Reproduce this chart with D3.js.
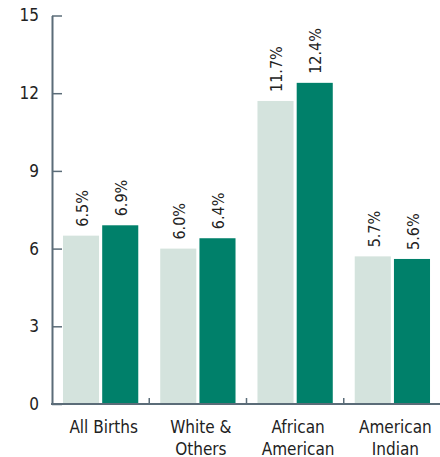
<!DOCTYPE html>
<html>
<head>
<meta charset="utf-8">
<script src="https://cdn.jsdelivr.net/npm/d3@7"></script>
<style>
  body { margin: 0; background: #fff; }
  text { font-family: "Liberation Sans Narrow", "DejaVu Sans Condensed", "Roboto", sans-serif; fill: #222; }
</style>
</head>
<body>
<script>
// chart values
const categories = [["All Births"], ["White &", "Others"], ["African", "American"], ["American", "Indian"]];
const seriesNames = ["earlier", "later"];
const earlierValues = [6.5, 6.0, 11.7, 5.7];
const laterValues = [6.9, 6.4, 12.4, 5.6];
const yTicks = [0, 3, 6, 9, 12, 15];
const colors = { earlier: "#d4e3dd", later: "#00806a" };

const width = 440, height = 457;
const margin = { left: 52, right: 441, top: 15.5, bottom: 404 };
const axisColor = "#5b6c78";

const svg = d3.select("body").append("svg")
    .attr("width", width)
    .attr("height", height);

const catKeys = categories.map(c => c.join(" "));

const x = d3.scaleBand()
    .domain(catKeys)
    .range([margin.left, margin.right])
    .padding(0);

const xSub = d3.scaleBand()
    .domain(seriesNames)
    .range([0, x.bandwidth()])
    .paddingInner(0.08)
    .paddingOuter(0.28);

const y = d3.scaleLinear()
    .domain([0, 15])
    .range([margin.bottom, margin.top]);

const rows = catKeys.map((k, i) => ({
  key: k,
  values: [
    { series: "earlier", value: earlierValues[i] },
    { series: "later", value: laterValues[i] }
  ]
}));

// bars
const groups = svg.append("g")
  .selectAll("g")
  .data(rows)
  .join("g")
    .attr("transform", d => `translate(${x(d.key)},0)`);

groups.selectAll("rect")
  .data(d => d.values)
  .join("rect")
    .attr("x", d => xSub(d.series))
    .attr("y", d => y(d.value))
    .attr("width", xSub.bandwidth())
    .attr("height", d => y(0) - y(d.value))
    .attr("fill", d => colors[d.series]);

// value labels, rotated
groups.selectAll("text")
  .data(d => d.values)
  .join("text")
    .attr("transform", d => `translate(${xSub(d.series) + xSub.bandwidth() / 2 + 1},${y(d.value) - 9}) rotate(-90)`)
    .attr("dy", "0.36em")
    .attr("font-size", 16)
    .text(d => d.value.toFixed(1) + "%");

// y axis
const yAxis = svg.append("g")
    .attr("transform", `translate(${margin.left},0)`)
    .call(d3.axisRight(y).tickValues(yTicks).tickSize(10).tickSizeOuter(0).tickFormat(d3.format("d")));
yAxis.select(".domain").attr("stroke", axisColor).attr("stroke-width", 2);
yAxis.selectAll(".tick line").attr("stroke", axisColor).attr("stroke-width", 1.5);
yAxis.selectAll(".tick text")
    .attr("x", -13)
    .attr("text-anchor", "end")
    .attr("font-size", 17)
    .attr("fill", "#222");

// x axis
const xAxis = svg.append("g")
    .attr("transform", `translate(0,${margin.bottom})`);
xAxis.append("line")
    .attr("x1", margin.left - 1)
    .attr("x2", width)
    .attr("stroke", axisColor)
    .attr("stroke-width", 2);
xAxis.selectAll(".sep")
  .data(catKeys.slice(1))
  .join("line")
    .attr("class", "sep")
    .attr("x1", d => x(d))
    .attr("x2", d => x(d))
    .attr("y1", 0)
    .attr("y2", -6)
    .attr("stroke", axisColor)
    .attr("stroke-width", 1.5);

// category labels sit a bit right of band centre, as in the original
xAxis.selectAll(".cat")
  .data(categories)
  .join("text")
    .attr("class", "cat")
    .attr("text-anchor", "middle")
    .attr("font-size", 17)
    .attr("transform", (d, i) => `translate(${x(catKeys[i]) + x.bandwidth() / 2 + 3},29)`)
  .selectAll("tspan")
  .data(d => d)
  .join("tspan")
    .attr("x", 0)
    .attr("dy", (d, i) => i === 0 ? 0 : 21.5)
    .text(d => d);
</script>
</body>
</html>
